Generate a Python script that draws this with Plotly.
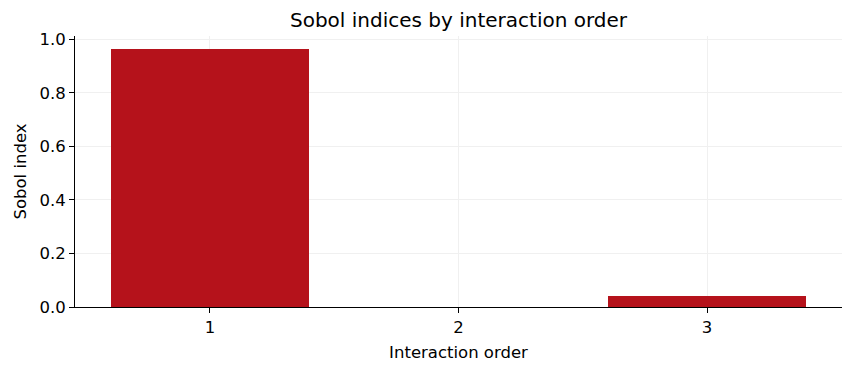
import plotly.graph_objects as go

orders = [1, 2, 3]
sobol_values = [0.965, 0.0, 0.040]
tick_labels = ["1", "2", "3"]

fig = go.Figure()
fig.add_trace(go.Bar(
    x=orders, y=sobol_values, width=0.8,
    marker=dict(color="#b5121b", line=dict(width=0)),
))

fig.update_layout(
    width=853, height=373,
    margin=dict(l=75, r=11, t=36, b=66),
    paper_bgcolor="white", plot_bgcolor="white",
    font=dict(family="DejaVu Sans", size=16, color="black"),
    title=dict(text="Sobol indices by interaction order", xref="paper", x=0.5, xanchor="center",
               y=1 - 20 / 373, yanchor="middle", font=dict(size=20)),
    showlegend=False,
    bargap=0,
)
fig.update_xaxes(
    range=[0.457, 3.543], tickmode="array", tickvals=orders, ticktext=tick_labels,
    showline=True, linecolor="black", linewidth=1, mirror=False,
    ticks="outside", ticklen=5, tickcolor="black",
    showgrid=True, gridcolor="#f0f0f0", gridwidth=1, zeroline=False,
    title=dict(text="Interaction order", font=dict(size=16.5), standoff=10),
    tickfont=dict(size=16.5),
)
fig.update_yaxes(
    range=[0, 1.013], tickmode="array", tickvals=[0, 0.2, 0.4, 0.6, 0.8, 1.0],
    ticktext=["0.0", "0.2", "0.4", "0.6", "0.8", "1.0"],
    showline=True, linecolor="black", linewidth=1,
    ticks="outside", ticklen=5, tickcolor="black",
    showgrid=True, gridcolor="#f0f0f0", gridwidth=1, zeroline=False,
    title=dict(text="Sobol index", font=dict(size=16.5), standoff=8),
    tickfont=dict(size=16.5),
)

fig.write_html("out.html")
